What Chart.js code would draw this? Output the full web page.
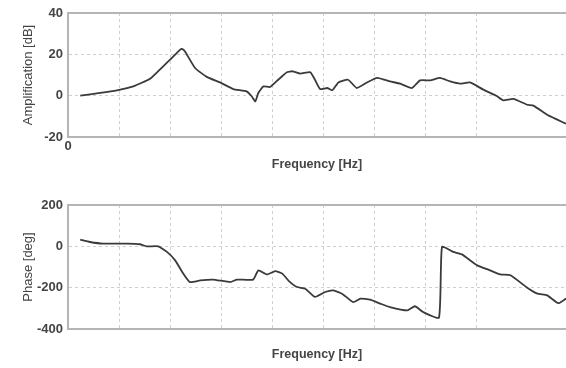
<!DOCTYPE html>
<html lang="en">
<head>
    <meta charset="UTF-8">
    <title>Frequency response</title>
    <script src="https://cdn.jsdelivr.net/npm/chart.js@4.4.1/dist/chart.umd.min.js"></script>
    <style>
        body { margin: 0; background: #fff; }
        .box { position: absolute; left: 0; width: 566px; height: 184px; }
    </style>
</head>
<body>
<div class="box" style="top:0"><canvas id="ampChart"></canvas></div>
<div class="box" style="top:184px"><canvas id="phaseChart"></canvas></div>
<script>
    // amplification curve (frequency in grid units, dB)
    const ampFreq = [0.24, 0.63, 0.96, 1.28, 1.61, 1.8, 2.0, 2.2, 2.23, 2.29, 2.49, 2.72, 2.98, 3.24, 3.5, 3.6, 3.67, 3.73, 3.83, 3.96, 4.12, 4.29, 4.4, 4.55, 4.75, 4.84, 4.94, 5.08, 5.18, 5.3, 5.49, 5.66, 5.86, 6.06, 6.31, 6.51, 6.74, 6.9, 7.1, 7.29, 7.49, 7.69, 7.88, 8.14, 8.41, 8.53, 8.73, 9.0, 9.12, 9.39, 9.59, 9.76];
    const ampDb = [0, 1.3, 2.6, 4.5, 8.2, 12.6, 17.4, 22.3, 22.6, 21.5, 13.4, 9.1, 6.4, 3.2, 2.1, -0.3, -2.8, 1.3, 4.5, 4.2, 7.7, 11.3, 11.8, 10.7, 11.3, 7.7, 3.2, 3.7, 2.6, 6.4, 7.7, 3.7, 6.4, 8.6, 6.9, 5.8, 3.7, 7.4, 7.4, 8.6, 6.9, 5.8, 6.4, 2.9, -0.3, -2.3, -1.6, -4.4, -4.8, -9.2, -11.6, -13.6];

    // phase curve (frequency in grid units, degrees)
    const phaseFreq = [0.24, 0.43, 0.69, 1.15, 1.41, 1.54, 1.77, 1.94, 2.1, 2.26, 2.39, 2.59, 2.84, 3.18, 3.31, 3.63, 3.73, 3.9, 4.06, 4.2, 4.33, 4.49, 4.65, 4.84, 5.04, 5.2, 5.37, 5.59, 5.73, 5.92, 6.12, 6.31, 6.65, 6.8, 6.96, 7.27, 7.33, 7.55, 7.72, 8.02, 8.27, 8.47, 8.67, 9.0, 9.2, 9.39, 9.61, 9.76];
    const phaseDeg = [32, 21, 13, 13, 10, 0, 0, -27, -68, -132, -173, -165, -161, -173, -161, -161, -116, -136, -120, -132, -168, -197, -205, -245, -221, -213, -229, -270, -253, -258, -277, -294, -310, -290, -318, -345, -3, -27, -39, -92, -116, -136, -140, -200, -229, -237, -275, -253];

    const xTitle = "Frequency [Hz]";
    const textColor = "#444";
    const fontFamily = "'Liberation Sans', Arial, sans-serif";

    function points(xs, ys) {
        return xs.map((x, i) => ({ x: x, y: ys[i] }));
    }

    function makeChart(id, xs, ys, yMin, yMax, yStep, yTitle, opts) {
        return new Chart(id, {
            type: "line",
            data: {
                datasets: [{
                    data: points(xs, ys),
                    borderColor: "#3a3a3a",
                    borderWidth: 1.8,
                    pointRadius: 0,
                    tension: 0.15,
                    fill: false
                }]
            },
            options: {
                responsive: true,
                maintainAspectRatio: false,
                animation: false,
                layout: { padding: { top: opts.top, left: 0, right: 0, bottom: 0 } },
                plugins: { legend: { display: false }, tooltip: { enabled: false } },
                scales: {
                    x: {
                        type: "linear",
                        min: 0,
                        max: 9.76,
                        ticks: {
                            stepSize: 1,
                            color: textColor,
                            font: { family: fontFamily, size: 13, weight: "bold" },
                            padding: 2,
                            maxRotation: 0,
                            autoSkip: false,
                            callback: (v) => (opts.showZero && v === 0 ? "0" : "")
                        },
                        afterBuildTicks: (s) => { s.ticks = s.ticks.filter(t => Number.isInteger(t.value)); },
                        afterFit: (s) => { s.height = opts.xHeight; },
                        grid: { color: "#cfcfcf", drawTicks: false },
                        border: { color: "#b5b5b5", width: 2, dash: [3, 3] },
                        title: {
                            display: true,
                            text: xTitle,
                            color: textColor,
                            font: { family: fontFamily, size: 12.5, weight: "bold" },
                            padding: { top: 0, bottom: opts.titlePad }
                        }
                    },
                    top: {
                        type: "linear",
                        position: "top",
                        min: 0,
                        max: 9.76,
                        ticks: { display: false },
                        grid: { display: false, drawTicks: false },
                        border: { color: "#b5b5b5", width: 2 },
                        afterFit: (s) => { s.height = 0; }
                    },
                    y: {
                        min: yMin,
                        max: yMax,
                        ticks: {
                            stepSize: yStep,
                            color: textColor,
                            padding: 5,
                            font: { family: fontFamily, size: 13, weight: "bold" }
                        },
                        afterFit: (s) => { s.width = 68; },
                        grid: { color: "#cfcfcf", drawTicks: false },
                        border: { color: "#b5b5b5", width: 2, dash: [3, 3] },
                        title: {
                            display: true,
                            text: yTitle,
                            color: textColor,
                            font: { family: fontFamily, size: 13 },
                            padding: { top: 21, bottom: 0 }
                        }
                    }
                }
            }
        });
    }

    makeChart("ampChart", ampFreq, ampDb, -20, 40, 20, "Amplification [dB]",
        { top: 13, xHeight: 47, titlePad: 11.5, showZero: true });
    makeChart("phaseChart", phaseFreq, phaseDeg, -400, 200, 200, "Phase [deg]",
        { top: 21, xHeight: 39, titlePad: 5.5, showZero: false });
</script>
</body>
</html>
